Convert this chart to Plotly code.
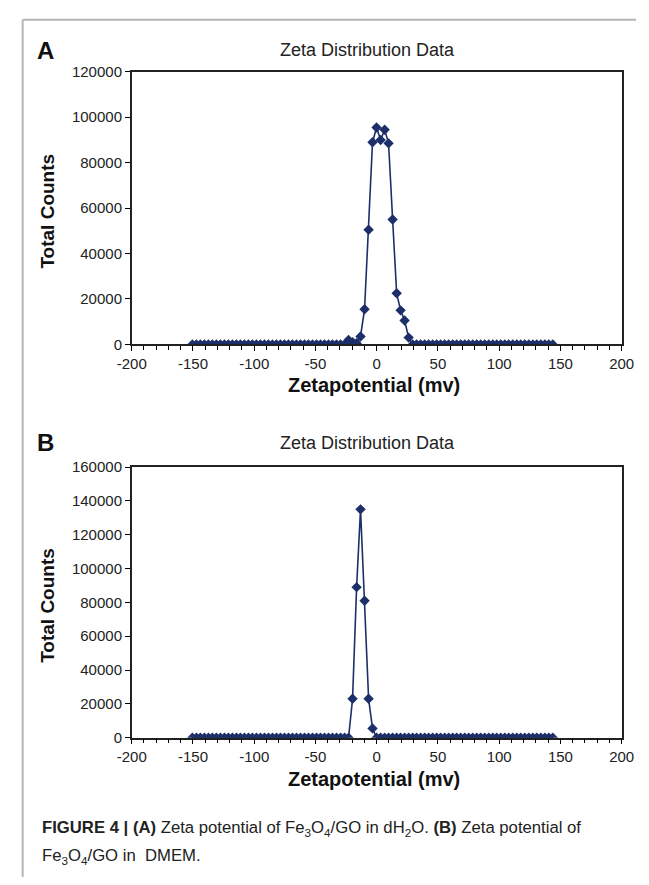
import plotly.graph_objects as go

W, H = 649, 885

# Zeta potential grid (mV)
zeta_mv = [-150.5, -147.2, -144.0, -140.7, -137.4, -134.2, -130.9, -127.6, -124.3, -121.1,
           -117.8, -114.5, -111.3, -108.0, -104.7, -101.5, -98.2, -94.9, -91.6, -88.4,
           -85.1, -81.8, -78.6, -75.3, -72.0, -68.8, -65.5, -62.2, -58.9, -55.7,
           -52.4, -49.1, -45.9, -42.6, -39.3, -36.1, -32.8, -29.5, -26.2, -23.0,
           -19.7, -16.4, -13.2, -9.9, -6.6, -3.4, -0.1, 3.2, 6.5, 9.7,
           13.0, 16.3, 19.5, 22.8, 26.1, 29.4, 32.6, 35.9, 39.2, 42.4,
           45.7, 49.0, 52.2, 55.5, 58.8, 62.1, 65.3, 68.6, 71.9, 75.1,
           78.4, 81.7, 84.9, 88.2, 91.5, 94.8, 98.0, 101.3, 104.6, 107.8,
           111.1, 114.4, 117.6, 120.9, 124.2, 127.5, 130.7, 134.0, 137.3, 140.5,
           143.8]

# Panel A: Fe3O4/GO in dH2O
counts_a = [0] * 39 + [2000, 1000, 500, 3500, 15500, 50500, 89000, 95500, 90000, 94500,
                       88500, 55000, 22500, 15000, 10500, 3000] + [0] * 36

# Panel B: Fe3O4/GO in DMEM
counts_b = [0] * 40 + [23000, 89000, 135000, 81000, 23000, 5500] + [0] * 45

x_ticks = [-200, -150, -100, -50, 0, 50, 100, 150, 200]
x_tick_labels = ["-200", "-150", "-100", "-50", "0", "50", "100", "150", "200"]
y_ticks_a = [0, 20000, 40000, 60000, 80000, 100000, 120000]
y_ticks_b = [0, 20000, 40000, 60000, 80000, 100000, 120000, 140000, 160000]

panel_title = "Zeta Distribution Data"
x_title = "Zetapotential (mv)"
y_title = "Total Counts"

NAVY = "#1c2f68"
FONT = "Arial, Liberation Sans, sans-serif"

def px_x(p):
    return p / W

def px_y(p):
    return 1 - p / H

fig = go.Figure()
for counts, xa, ya in [(counts_a, "x", "y"), (counts_b, "x2", "y2")]:
    fig.add_trace(go.Scatter(
        x=zeta_mv, y=counts, xaxis=xa, yaxis=ya, mode="lines+markers",
        line=dict(color=NAVY, width=1.6),
        marker=dict(symbol="diamond", size=8, color=NAVY),
        showlegend=False, hoverinfo="skip"))

def xaxis_cfg(anchor):
    return dict(domain=[px_x(122), px_x(634)], anchor=anchor, range=[-200, 200],
                tickvals=x_ticks, ticktext=x_tick_labels,
                ticks="outside", ticklen=5, tickwidth=1.2,
                tickcolor="black", showline=True, linecolor="#222", linewidth=1.5,
                mirror=True, showgrid=False, zeroline=False,
                minor=dict(dtick=10, ticks="outside", ticklen=4, tickcolor="black",
                           tickwidth=1, showgrid=False),
                tickfont=dict(family=FONT, size=15, color="#222"))

def yaxis_cfg(top, bottom, anchor, rng, tv):
    return dict(domain=[px_y(bottom), px_y(top)], anchor=anchor, range=rng,
                tickvals=tv, ticktext=[str(v) for v in tv],
                ticks="outside", ticklen=5, tickwidth=1.2, tickcolor="black",
                showline=True, linecolor="#222", linewidth=1.5, mirror=True,
                showgrid=False, zeroline=False,
                tickfont=dict(family=FONT, size=15, color="#222"))

fig.update_layout(
    width=W, height=H, margin=dict(l=0, r=0, t=0, b=0),
    paper_bgcolor="white", plot_bgcolor="white",
    xaxis=xaxis_cfg("y"),
    yaxis=yaxis_cfg(64, 342, "x", [0, 120000], y_ticks_a),
    xaxis2=xaxis_cfg("y2"),
    yaxis2=yaxis_cfg(467, 743, "x2", [0, 160000], y_ticks_b),
)

ann = []
def add_text(text, x, y, size, bold=False, angle=0, xanchor="center", family=FONT, color="#222"):
    ann.append(dict(text=f"<b>{text}</b>" if bold else text, x=px_x(x), y=px_y(y),
                    xref="paper", yref="paper", showarrow=False, textangle=angle,
                    xanchor=xanchor, yanchor="middle",
                    font=dict(family=family, size=size, color=color)))

for letter, ty, top, bottom, xt in [("A", 42, 64, 342, 383), ("B", 442, 467, 743, 785)]:
    add_text(letter, 21, ty, 24, bold=True, xanchor="left", color="#111")
    add_text(panel_title, 368, ty, 18)
    add_text(y_title, 34, (top + bottom) / 2 + 3, 19, bold=True, angle=-90, color="#111")
    add_text(x_title, 375, xt, 20, bold=True, color="#111")

CAP = "Liberation Sans Narrow, Arial Narrow, Liberation Sans, sans-serif"
add_text("<b>FIGURE 4 | (A)</b> Zeta potential of Fe<sub>3</sub>O<sub>4</sub>/GO in dH<sub>2</sub>O. "
         "<b>(B)</b> Zeta potential of", 26, 836, 16.7, xanchor="left", family=CAP, color="#222")
add_text("Fe<sub>3</sub>O<sub>4</sub>/GO in  DMEM.", 26, 864, 16.7, xanchor="left", family=CAP, color="#222")

fig.update_layout(annotations=ann)

# outer frame lines of the figure panel
fig.add_shape(type="line", xref="paper", yref="paper", x0=px_x(8), x1=1, y0=px_y(11), y1=px_y(11),
              line=dict(color="#b5b5b5", width=2))
fig.add_shape(type="line", xref="paper", yref="paper", x0=px_x(8), x1=px_x(8), y0=px_y(11), y1=0,
              line=dict(color="#b5b5b5", width=2))

fig.write_html("out.html", config={"displayModeBar": False},
               post_script="document.body.style.margin='0';document.body.style.overflow='hidden';")
